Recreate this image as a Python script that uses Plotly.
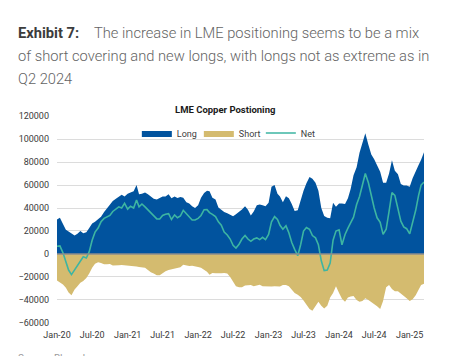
import plotly.graph_objects as go

# ---------------- data (semi-monthly readings, Jan 2020 – mid Mar 2025) ----------------
long_pos = [
    30000, 31500, 26000, 21000, 19500, 18000, 16000, 17500, 20000, 18000,
    19000, 22500, 26500, 28000, 30000, 32500, 36500, 40000, 43000, 46000,
    48000, 50000, 51500, 50000, 52500, 53500, 54500, 60000, 52000, 52500,
    53500, 52000, 50000, 48000, 47500, 48500, 50000, 50000, 52000, 48500,
    50000, 48700, 49500, 49000, 45000, 44000, 41500, 40000, 42500, 49000,
    53000, 55000, 54500, 49000, 47500, 40500, 38500, 36500, 35500, 34000,
    32800, 34500, 36500, 38800, 41500, 38500, 33500, 37000, 42500, 43000,
    42500, 41500, 44500, 58500, 60000, 52500, 50000, 45000, 50200, 48500,
    43500, 37500, 38000, 47000, 55000, 61500, 67000, 65500, 62000, 55000,
    40000, 33000, 31500, 31000, 44500, 41000, 44000, 44000, 43500, 48500,
    56500, 68500, 75500, 88000, 95500, 105000, 95000, 86500, 82500, 76500,
    71500, 62000, 62000, 70000, 81500, 72500, 69500, 61000, 59700, 59700,
    58500, 66000, 72500, 77500, 82000, 88500,
]
short_pos = [
    -23000, -24500, -26500, -29500, -33500, -36000, -31000, -28000, -25000, -23500,
    -21000, -17000, -12000, -8500, -7200, -7800, -9000, -9000, -8700, -10000,
    -10200, -9800, -9600, -10000, -10200, -10500, -10700, -11000, -11300, -11500,
    -12000, -14000, -16000, -17000, -18500, -18500, -16500, -15000, -14000, -13500,
    -13000, -12500, -11500, -9500, -10000, -10500, -10200, -10500, -11300, -12000,
    -13500, -15500, -18000, -16500, -16800, -17000, -16800, -16500, -17000, -20000,
    -24000, -28000, -29000, -29000, -27500, -27000, -27000, -28000, -27500, -26800,
    -28000, -28300, -28500, -28300, -28000, -28500, -28300, -27000, -27000, -28000,
    -31000, -34000, -35500, -37500, -40500, -44000, -48000, -49500, -45000, -41500,
    -45000, -47500, -45000, -38000, -34000, -28000, -34000, -39000, -41500, -38000,
    -37000, -36500, -40000, -41500, -41000, -38500, -40000, -41800, -43000, -45500,
    -48000, -41000, -29000, -27000, -30500, -32500, -32500, -34500, -36000, -38500,
    -41000, -39500, -36000, -31000, -27000, -26000,
]
net_pos = [
    6700, 7000, 1000, -8000, -14000, -18000, -14000, -10000, -5500, -2500,
    -3500, 2000, 12000, 19000, 22600, 28000, 31000, 32000, 33500, 37000,
    39000, 41000, 40000, 44000, 39000, 41500, 40000, 47000, 41000, 43500,
    41000, 38500, 36000, 33000, 30500, 30500, 33500, 34500, 35000, 30000,
    34000, 31500, 33000, 38000, 35000, 32800, 29500, 29500, 31000, 33500,
    38500, 38600, 36000, 34500, 32500, 28000, 25000, 19000, 16500, 13000,
    7500, 5200, 8500, 13000, 16000, 13000, 11000, 13000, 14000, 12500,
    14500, 12500, 17000, 28000, 32500, 30000, 25000, 21500, 24500, 18500,
    10000, 4000, -1500, 8000, 20000, 23000, 21500, 16000, 14000, 8000,
    -6000, -14500, -14000, -8000, 12000, 20000, 21000, 8000, 17000, 22500,
    27000, 32000, 43000, 50000, 60000, 70000, 62000, 50500, 40000, 31500,
    27500, 17000, 21500, 37000, 53500, 51000, 38000, 28500, 23500, 22000,
    17500, 27000, 38000, 51000, 60000, 62500,
]
dates = []
for i in range(len(long_pos)):
    k = i // 2
    dates.append(f"{2020 + k // 12}-{k % 12 + 1:02d}-{1 if i % 2 == 0 else 16:02d}")

series_names = ["Long", "Short", "Net"]
chart_title = "LME Copper Postioning"
exhibit_label = "Exhibit 7:"
headline = [
    "The increase in LME positioning seems to be a mix",
    "of short covering and new longs, with longs not as extreme as in",
    "Q2 2024",
]
source_text = "Source: Bloomberg"

# ---------------- style ----------------
BLUE = "#01539E"
GOLD = "#D4BB6F"
TEAL = "#3DB5A2"
OFF = 8                      # page body margin of the html output
W, H = 468 - OFF, 356 - OFF  # figure size so it fills the window exactly
# plot area, in window pixels
PL, PR, PT, PB = 57.3, 424.0, 116.0, 322.7
ML, MR = PL - OFF, W - (PR - OFF)
MT, MB = PT - OFF, H - (PB - OFF)
PW, PH = W - ML - MR, H - MT - MB


def px(x):
    """window pixel x -> paper x"""
    return (x - OFF - ML) / PW


def py(y):
    """window pixel y -> paper y"""
    return (H - MB - (y - OFF)) / PH


fig = go.Figure()
fig.add_trace(go.Scatter(x=dates, y=long_pos, name=series_names[0], mode="lines",
                         fill="tozeroy", fillcolor=BLUE, line=dict(width=0, color=BLUE)))
fig.add_trace(go.Scatter(x=dates, y=short_pos, name=series_names[1], mode="lines",
                         fill="tozeroy", fillcolor=GOLD, line=dict(width=0, color=GOLD)))
fig.add_trace(go.Scatter(x=dates, y=net_pos, name=series_names[2], mode="lines",
                         line=dict(width=1.6, color=TEAL)))

tick_font = dict(family="Roboto, Arial, sans-serif", size=9, color="#3a3a3a")
fig.update_layout(
    width=W, height=H,
    margin=dict(l=ML, r=MR, t=MT, b=MB, pad=0),
    paper_bgcolor="white", plot_bgcolor="white",
    showlegend=True,
    legend=dict(orientation="h", x=px(230), y=py(133), xanchor="center", yanchor="middle",
                bgcolor="rgba(0,0,0,0)", entrywidth=17, entrywidthmode="pixels",
                font=dict(family="Roboto, Arial, sans-serif", size=9, color="#404040"),
                traceorder="normal"),
    xaxis=dict(type="date", range=[dates[0], dates[-1]], tick0="2020-01-01", dtick="M6",
               tickformat="%b-%y", showgrid=False, zeroline=False, showline=False,
               tickfont=tick_font, ticklabelstandoff=5),
    yaxis=dict(range=[-60100, 120100], tickvals=list(range(-60000, 120001, 20000)),
               tickformat="d", showgrid=True,
               gridcolor="#dcdcdc", gridwidth=1, zeroline=False, showline=False,
               tickfont=tick_font, ticklabelstandoff=7),
    shapes=[dict(type="line", xref="paper", yref="y", x0=0, x1=1, y0=0, y1=0,
                 line=dict(color="#8c8c8c", width=1.5), layer="above")],
)

title_font = dict(family="Roboto, Arial, sans-serif", size=14.7)
ann = [
    dict(text=f"<b>{exhibit_label}</b>", x=px(16), y=py(33), font=dict(color="#3c3c3c", **title_font)),
    dict(text=headline[0], x=px(92), y=py(33), font=dict(color="#646464", weight=300, **title_font)),
    dict(text=headline[1], x=px(16), y=py(56), font=dict(color="#646464", weight=300, **title_font)),
    dict(text=headline[2], x=px(16), y=py(79), font=dict(color="#646464", weight=300, **title_font)),
]
for a in ann:
    fig.add_annotation(xref="paper", yref="paper", xanchor="left", yanchor="middle",
                       showarrow=False, **a)
fig.add_annotation(text=f"<b>{chart_title}</b>", xref="paper", yref="paper", x=px(225.5), y=py(110),
                   xanchor="center", yanchor="middle", showarrow=False,
                   font=dict(family="Roboto, Arial, sans-serif", size=9.5, color="#1a1a1a"))
fig.add_annotation(text=source_text, xref="paper", yref="paper", x=px(16), y=py(351),
                   xanchor="left", yanchor="top", showarrow=False,
                   font=dict(family="Roboto, Arial, sans-serif", size=10, color="#9a9a9a"))

fig.write_html("out.html")
